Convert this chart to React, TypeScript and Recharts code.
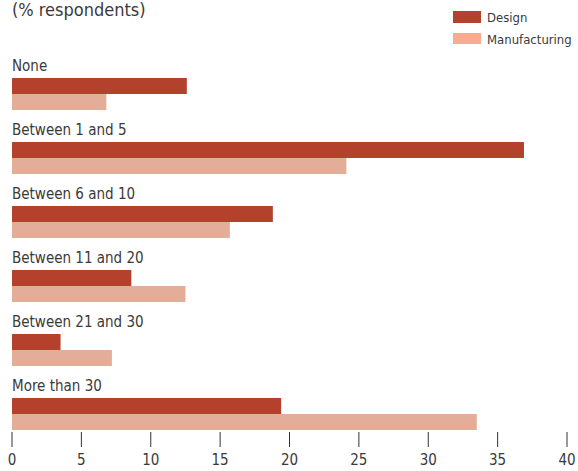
import { BarChart, Bar, XAxis, YAxis, LabelList } from 'recharts';

const categories = ['None', 'Between 1 and 5', 'Between 6 and 10', 'Between 11 and 20', 'Between 21 and 30', 'More than 30'];
const design = [12.6, 36.9, 18.8, 8.6, 3.5, 19.4];
const manufacturing = [6.8, 24.1, 15.7, 12.5, 7.2, 33.5];
const xTicks = [0, 5, 10, 15, 20, 25, 30, 35, 40];

const data = categories.map((category, i) => ({
  category,
  design: design[i],
  manufacturing: manufacturing[i],
}));

const FONT = '"DejaVu Sans Condensed", "DejaVu Sans", sans-serif';
const TEXT = '#3a3a3a';
const DESIGN = '#b3412c';
const MANUFACTURING = '#e3ad98';
const MANUFACTURING_KEY = '#f9ab8f';

// category name sits just above each pair of bars
function CategoryLabel(props: any) {
  const { x, y, value } = props;
  return (
    <text x={x} y={y - 7} fill={TEXT} fontSize={15} fontFamily={FONT}>
      {value}
    </text>
  );
}

// tick mark rises from the axis, number below it
function XTick(props: any) {
  const { x, y, payload } = props;
  return (
    <g>
      <line x1={x} x2={x} y1={y - 14} y2={y + 1} stroke="#333" strokeWidth={1} />
      <text x={x} y={y + 19} textAnchor="middle" fill={TEXT} fontSize={15} fontFamily={FONT}>
        {payload.value}
      </text>
    </g>
  );
}

export default function App() {
  return (
    <div style={{ position: 'absolute', left: 0, top: 0, width: 578, height: 471, background: '#fff' }}>
      <BarChart
        width={578}
        height={471}
        data={data}
        layout="vertical"
        margin={{ top: 62, right: 11, left: 12, bottom: 0 }}
        barSize={16}
        barGap={0}
      >
        <XAxis
          type="number"
          domain={[0, 40]}
          ticks={xTicks}
          height={25}
          axisLine={false}
          tickLine={false}
          tickSize={0}
          tickMargin={0}
          tick={<XTick />}
          interval={0}
        />
        <YAxis type="category" dataKey="category" hide />
        <Bar dataKey="design" fill={DESIGN} isAnimationActive={false}>
          <LabelList dataKey="category" content={<CategoryLabel />} />
        </Bar>
        <Bar dataKey="manufacturing" fill={MANUFACTURING} isAnimationActive={false} />
      </BarChart>
      <svg
        width={578}
        height={471}
        style={{ position: 'absolute', left: 0, top: 0, pointerEvents: 'none' }}
      >
        <text x={12} y={16} fill={TEXT} fontSize={18} fontFamily={FONT}>
          (% respondents)
        </text>
        <rect x={453} y={11} width={28} height={12} fill={DESIGN} />
        <text x={487} y={22} fill={TEXT} fontSize={13} fontFamily={FONT}>
          Design
        </text>
        <rect x={453} y={33} width={28} height={11} fill={MANUFACTURING_KEY} />
        <text x={487} y={44} fill={TEXT} fontSize={13} fontFamily={FONT}>
          Manufacturing
        </text>
      </svg>
    </div>
  );
}
